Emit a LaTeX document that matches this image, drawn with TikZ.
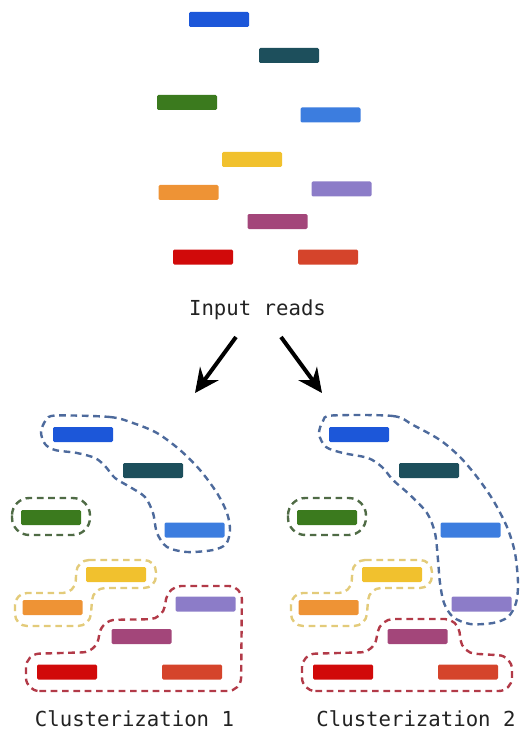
\documentclass[tikz,border=0pt]{standalone}
\usepackage{fontspec}
\setmonofont{DejaVu Sans Mono}
\usetikzlibrary{arrows.meta, positioning}
\definecolor{rdblue}{HTML}{1C57D9}
\definecolor{rdteal}{HTML}{1D4F5C}
\definecolor{rdgreen}{HTML}{3B7A1E}
\definecolor{rdlblue}{HTML}{3C7DDF}
\definecolor{rdyellow}{HTML}{F1C12E}
\definecolor{rdorange}{HTML}{EE9335}
\definecolor{rdpurple}{HTML}{8C7CC8}
\definecolor{rdmagenta}{HTML}{A3467A}
\definecolor{rdred}{HTML}{D10A0A}
\definecolor{rdrust}{HTML}{D5442B}
\definecolor{clblue}{HTML}{4D6A9C}
\definecolor{clgreen}{HTML}{4F6B45}
\definecolor{clyellow}{HTML}{E3CB7A}
\definecolor{clred}{HTML}{B23A48}
\definecolor{ink}{HTML}{222222}
\tikzset{
	read/.style = {rectangle, rounded corners = 1pt, minimum width = 45pt, minimum height = 11.25pt, inner sep = 0pt},
	cluster/.style = {dash pattern = on 5pt off 3.5pt, line width = 1.8pt},
	caption/.style = {font = \ttfamily\fontsize{15.5}{18}\selectfont, text = ink, inner sep = 0pt},
	flow/.style = {line width = 3pt, -{Stealth[length = 18pt, width = 17pt, inset = 6pt]}}
}

\begin{document}
\begin{tikzpicture}[x = 0.75pt, y = -0.75pt]
		\useasboundingbox (0, 0) rectangle (520, 734);

		\foreach \grp/\dx/\dy in {in/0/0, one/-136/415, two/140/415}
			\foreach \rd/\x/\y in {blue/219/19.5, teal/289/55.5, green/187/102.5, lblue/330.5/115, yellow/252/159.5, orange/188.5/192.5, purple/341.5/189, magenta/277.5/221.5, red/203/257, rust/328/257}
				\node [read, fill = rd\rd] (\grp-\rd) at (\x+\dx, \y+\dy) {};

		\node [caption] (input) at (257.5, 310) {Input reads};
		\coordinate (splitA) at (236, 337);
		\coordinate (splitB) at (281, 337);
		\coordinate (tipA) at (195, 393);
		\coordinate (tipB) at (322, 393);
		\draw [flow] (splitA) -- (tipA);
		\draw [flow] (splitB) -- (tipB);

		% clusterization 1
		\draw [cluster, clblue] plot [smooth cycle, tension = 0.5] coordinates {(56, 415.5) (110, 417) (133, 423) (157, 433) (180, 450) (200, 470) (217, 493) (227, 513) (230, 530) (226, 544) (213, 550) (187, 552) (167, 547) (157, 533) (153, 513) (145, 497) (130, 487) (115, 478) (105, 466) (95, 458) (77, 453) (55, 450) (45, 444) (41, 432) (46, 420)};
		\draw [cluster, clgreen, rounded corners = 13pt] (12, 498) rectangle (90, 535);
		\draw [cluster, clyellow, rounded corners = 9pt] (77, 560) -- (156, 560) -- (156, 588) -- (93, 588) -- (90, 626) -- (15, 626) -- (15, 593) -- (75, 593) -- cycle;
		\draw [cluster, clred, rounded corners = 10pt] (26, 691) -- (241, 691) -- (242, 586) -- (168, 586) -- (163, 619) -- (102, 620) -- (96, 652) -- (26, 654) -- cycle;
		\node [caption] (clust1) at (134.5, 719) {Clusterization 1};

		% clusterization 2
		\draw [cluster, clblue] plot [smooth cycle, tension = 0.5] coordinates {(332, 415.5) (393, 416) (413, 425) (440, 440) (460, 457) (477, 477) (493, 500) (507, 527) (515, 553) (518, 583) (516, 603) (508, 617) (493, 623) (470, 624) (453, 617) (444, 603) (440, 583) (438, 560) (435, 533) (427, 513) (410, 495) (393, 480) (382, 467) (368, 458) (343, 453) (326, 447) (319, 434) (323, 421)};
		\draw [cluster, clgreen, rounded corners = 13pt] (288, 498) rectangle (366, 535);
		\draw [cluster, clyellow, rounded corners = 9pt] (353, 560) -- (432, 560) -- (432, 588) -- (369, 588) -- (366, 626) -- (291, 626) -- (291, 593) -- (351, 593) -- cycle;
		\draw [cluster, clred, rounded corners = 10pt] (302, 691) -- (512, 691) -- (512, 656) -- (462, 653) -- (458, 619) -- (380, 619) -- (374, 652) -- (302, 654) -- cycle;
		\node [caption] (clust2) at (416, 719) {Clusterization 2};
	\end{tikzpicture}
\end{document}
